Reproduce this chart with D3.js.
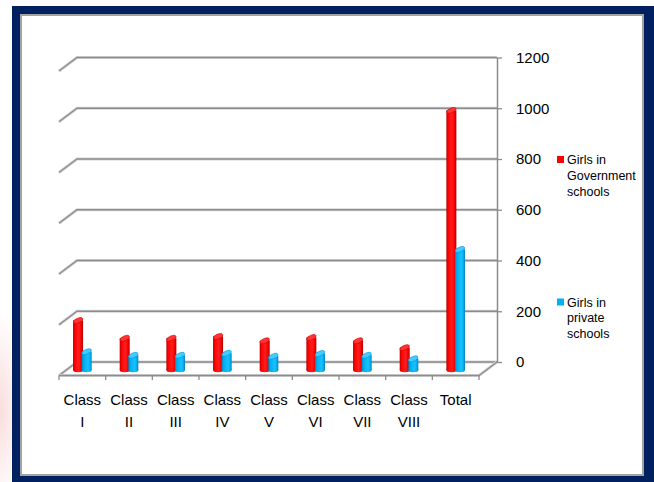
<!DOCTYPE html>
<html>
<head>
<meta charset="utf-8">
<script src="https://cdn.jsdelivr.net/npm/d3@7"></script>
<style>
  html, body { margin: 0; padding: 0; background: #fff; }
  svg { display: block; font-family: "Liberation Sans", Arial, sans-serif; }
</style>
</head>
<body>
<svg id="chart" width="654" height="482"></svg>
<script>
// Enrolment of girls by class, government vs private schools
const categories = ["Class I", "Class II", "Class III", "Class IV", "Class V", "Class VI", "Class VII", "Class VIII", "Total"];
const govGirls = [195, 125, 125, 132, 115, 128, 115, 88, 1023];
const privateGirls = [72, 58, 58, 66, 54, 65, 58, 44, 475];
const yTicks = [0, 200, 400, 600, 800, 1000, 1200];
const legendLabels = [["Girls in", "Government", "schools"], ["Girls in", "private", "schools"]];
const seriesColors = ["#ff0000", "#00b0f0"];

const svg = d3.select("#chart");
const W = 654, H = 482;

// 3D frame geometry: back wall and an oblique depth offset to the front edge
const depthDx = -18, depthDy = 13.5;
const backLeft = 77, backRight = 497;
const barDepthDy = 8;

const yBack = d3.scaleLinear().domain([0, 1200]).range([362, 57.5]);
const x = d3.scaleBand().domain(categories).range([backLeft + depthDx, backRight + depthDx]).paddingInner(0).paddingOuter(0);

const defs = svg.append("defs");

// soft pink glow at the left page edge
const glow = defs.append("radialGradient").attr("id", "glow");
glow.append("stop").attr("offset", "0%").attr("stop-color", "#f4b4b4").attr("stop-opacity", 0.45);
glow.append("stop").attr("offset", "100%").attr("stop-color", "#f4b4b4").attr("stop-opacity", 0);

function cylGradient(id, stops) {
  const g = defs.append("linearGradient").attr("id", id).attr("x1", "0%").attr("x2", "100%").attr("y1", "0%").attr("y2", "0%");
  stops.forEach(([o, c]) => g.append("stop").attr("offset", o).attr("stop-color", c));
}
cylGradient("cylRed", [["0%", "#b80000"], ["18%", "#ff0000"], ["55%", "#ff1e1e"], ["85%", "#f00000"], ["100%", "#a80000"]]);
cylGradient("cylBlue", [["0%", "#0080c0"], ["20%", "#00aeee"], ["65%", "#19c2ff"], ["88%", "#00a8e8"], ["100%", "#0078b4"]]);

svg.append("rect").attr("width", W).attr("height", H).attr("fill", "#fff");
svg.append("ellipse").attr("cx", 0).attr("cy", 410).attr("rx", 26).attr("ry", 100).attr("fill", "url(#glow)");

// navy frame and white panel
svg.append("rect").attr("x", 12).attr("y", 6).attr("width", W - 12).attr("height", H - 6).attr("fill", "#002060");
svg.append("rect").attr("x", 21).attr("y", 15).attr("width", 622).attr("height", 460)
  .attr("fill", "#fff").attr("stroke", "#a3a3a3").attr("stroke-width", 2);

// gridlines on back wall plus the left side-wall diagonals
const grid = svg.append("g");
yTicks.forEach(t => {
  const y = yBack(t);
  const d = `M${backLeft + depthDx},${y + depthDy}L${backLeft},${y}L${backRight},${y}`;
  grid.append("path").attr("d", d).attr("fill", "none").attr("stroke", "#d6d6d6").attr("stroke-width", 3);
  grid.append("path").attr("d", d).attr("fill", "none").attr("stroke", "#8c8c8c").attr("stroke-width", 1.3);
});

// floor front edge and its right diagonal
const floorY = yBack(0) + depthDy;
const floorD = `M${backLeft + depthDx},${floorY}L${backRight + depthDx},${floorY}L${backRight},${yBack(0)}`;
grid.append("path").attr("d", floorD).attr("fill", "none").attr("stroke", "#d6d6d6").attr("stroke-width", 3);
grid.append("path").attr("d", floorD).attr("fill", "none").attr("stroke", "#8c8c8c").attr("stroke-width", 1.3);

// category tick marks along the front edge
const boundaries = categories.map(c => x(c)).concat([x.range()[1]]);
grid.selectAll("line.xt").data(boundaries).join("line")
  .attr("x1", d => d).attr("x2", d => d)
  .attr("y1", floorY).attr("y2", floorY + 4.5)
  .attr("stroke", "#8c8c8c").attr("stroke-width", 1.3);

// value axis on the right of the back wall
const yAxis = d3.axisRight(yBack).tickValues(yTicks).tickFormat(d3.format("d"))
  .tickSize(5).tickSizeOuter(0).tickPadding(14);
const ax = svg.append("g").attr("transform", `translate(${backRight},0)`).call(yAxis);
ax.select(".domain").attr("stroke", "#8c8c8c").attr("stroke-width", 1.5);
ax.selectAll(".tick line").attr("stroke", "#8c8c8c").attr("stroke-width", 1.3);
ax.selectAll(".tick text").attr("font-size", 15).attr("fill", "#000")
  .attr("font-family", "'Liberation Sans', Arial, sans-serif");

// cylinders
const barR = 5;
function drawCylinders(values, offset, gradId, capColor, edgeColor) {
  const g = svg.append("g");
  categories.forEach((c, i) => {
    const cx = x(c) + x.bandwidth() / 2 + offset;
    const base = yBack(0) + barDepthDy;
    const top = yBack(values[i]) + barDepthDy;
    g.append("ellipse").attr("cx", cx).attr("cy", base).attr("rx", barR).attr("ry", 2.2).attr("fill", `url(#${gradId})`);
    g.append("rect").attr("x", cx - barR).attr("y", top).attr("width", barR * 2).attr("height", base - top).attr("fill", `url(#${gradId})`);
    g.append("ellipse").attr("cx", cx).attr("cy", top).attr("rx", barR).attr("ry", 2.3)
      .attr("transform", `rotate(-22,${cx},${top})`)
      .attr("fill", capColor).attr("stroke", edgeColor).attr("stroke-width", 0.6);
  });
}
drawCylinders(govGirls, -4.3, "cylRed", "#ff3434", "#d80000");
drawCylinders(privateGirls, 4.3, "cylBlue", "#45ccff", "#0098d8");

// category labels, wrapped at the space
const xl = svg.append("g").attr("font-size", 15).attr("fill", "#000").attr("text-anchor", "middle");
categories.forEach(c => {
  const t = xl.append("text").attr("x", x(c) + x.bandwidth() / 2).attr("y", 405);
  c.split(" ").forEach((w, j) => {
    t.append("tspan").attr("x", x(c) + x.bandwidth() / 2).attr("dy", j === 0 ? 0 : 22).text(w);
  });
});

// legend
const legendTop = [164, 306.5];
legendLabels.forEach((lines, k) => {
  const g = svg.append("g");
  g.append("rect").attr("x", 557).attr("y", legendTop[k] - 8).attr("width", 7).attr("height", 7).attr("fill", seriesColors[k]);
  lines.forEach((ln, j) => {
    g.append("text").attr("x", 567).attr("y", legendTop[k] + j * 15.8)
      .attr("font-size", 12.5).attr("fill", "#000").text(ln);
  });
});
</script>
</body>
</html>
